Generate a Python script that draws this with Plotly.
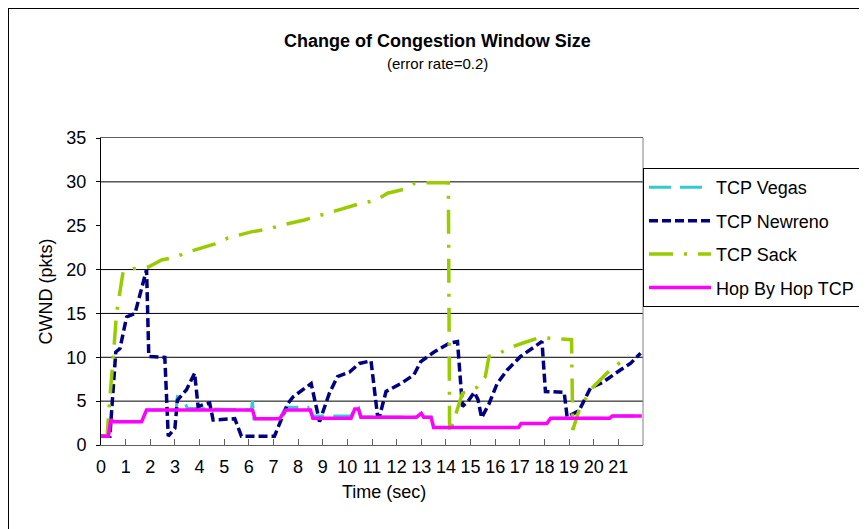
import plotly.graph_objects as go

# ---------------- data ----------------
vegas_t = [0, 0.3, 0.4, 0.5, 1.65, 1.85, 3.05, 3.1, 3.35, 3.5, 6.1, 6.15, 6.2, 7.25, 7.5, 8.4, 8.6,
           9.5, 10.15, 10.3, 10.45, 10.55, 12.8, 13.0, 13.1, 13.4, 13.5, 16.95, 17.05, 18.1, 18.25,
           20.65, 20.75, 21.95]
vegas_v = [1.0, 1.0, 2.9, 2.66, 2.66, 4.0, 4.0, 5.5, 5.3, 4.2, 4.0, 5.0, 3.0, 3.0, 4.3, 4.3, 3.3,
           3.3, 3.3, 4.3, 4.3, 3.2, 3.15, 3.6, 3.15, 3.15, 2.0, 2.0, 2.45, 2.45, 3.04,
           3.04, 3.3, 3.3]

newreno_t = [0, 0.36, 0.6, 0.77, 1.04, 1.38, 1.85, 1.94, 2.59, 2.73, 3.0, 3.1, 3.47, 3.8, 3.94,
             4.41, 4.55, 5.43, 5.7, 7.04, 7.58, 7.8, 8.53, 8.87, 9.27, 9.6, 10.08, 10.49, 10.96,
             11.23, 11.3, 11.57, 12.17, 12.7, 12.98, 13.52, 14.13, 14.47, 14.67, 14.9, 15.15,
             15.3, 15.45, 15.75, 16.08, 16.49, 17.03, 17.9, 18.04, 18.8, 18.92, 19.4, 19.87,
             20.34, 21.08, 21.49, 21.9]
newreno_v = [1.0, 1.0, 10.6, 11.0, 14.6, 15.0, 20.0, 10.1, 10.0, 1.0, 1.9, 5.1, 6.3, 8.2, 4.4,
             4.8, 2.85, 3.0, 1.0, 1.0, 4.7, 5.5, 7.0, 2.66, 5.9, 7.8, 8.3, 9.3, 9.6,
             3.2, 3.2, 6.1, 7.0, 8.0, 9.5, 10.6, 11.6, 11.8, 4.4, 5.0, 6.0,
             5.2, 3.1, 4.7, 7.0, 8.55, 10.1, 11.8, 6.1, 6.0, 3.2, 3.9, 6.5,
             7.1, 8.55, 9.3, 10.45]

sack_t = [0, 0.25, 0.3, 0.43, 0.54, 0.63, 0.81, 0.9, 1.3, 1.92, 2.46, 3.0, 3.53, 4.0, 4.6, 5.15,
          5.76, 6.1, 6.77, 7.38, 8.26, 8.93, 9.5, 10.49, 11.16, 11.63, 12.3, 12.7, 13.3, 14.0,
          14.1, 14.15, 14.47, 14.67, 14.94, 15.27, 15.6, 15.75, 16.1, 16.5, 17.1, 17.7, 18.1,
          18.8, 19.1, 19.15, 19.4, 19.87, 20.54, 21.2, 21.4]
sack_v = [1.0, 1.0, 3.2, 8.5, 11.6, 15.0, 18.0, 19.8, 20.1, 20.3, 21.1, 21.4, 22.0, 22.4, 22.9, 23.6,
          24.1, 24.3, 24.6, 25.1, 25.65, 26.2, 26.6, 27.5, 27.9, 28.7, 29.15, 29.8, 29.9, 29.9,
          29.9, 1.3, 4.0, 5.9, 6.1, 6.6, 7.8, 10.1, 10.3, 11.0, 11.6, 12.16, 12.2,
          12.1, 12.0, 1.7, 3.9, 6.3, 8.2, 9.7, 10.26]

hbh_t = [0, 0.3, 0.4, 0.5, 1.65, 1.85, 6.15, 6.25, 7.25, 7.5, 8.5, 8.6, 10.15, 10.3, 10.45, 10.55,
         12.8, 13.0, 13.1, 13.4, 13.5, 16.95, 17.05, 18.1, 18.25, 20.65, 20.75, 21.95]
hbh_v = [1.0, 1.0, 2.9, 2.66, 2.66, 4.0, 4.0, 3.0, 3.0, 4.0, 4.0, 3.05, 3.05, 4.1, 4.1, 3.15,
         3.15, 3.6, 3.15, 3.15, 2.0, 2.0, 2.45, 2.45, 3.04, 3.04, 3.3, 3.3]

series_names = ["TCP Vegas", "TCP Newreno", "TCP Sack", "Hop By Hop TCP"]
x_tick_vals = list(range(0, 22))
x_tick_text = [str(v) for v in x_tick_vals]
y_tick_vals = [0, 5, 10, 15, 20, 25, 30, 35]
grid_values = [5, 10, 15, 20, 30]   # the reference shows no line at 25

FONT = "Liberation Sans, Arial, sans-serif"

fig = go.Figure()
traces = [
    (vegas_t, vegas_v, "#33CCCC", "22px,9px", 3),
    (newreno_t, newreno_v, "#000080", "9px,4px", 3.5),
    (sack_t, sack_v, "#99CC00", "24px,11px,3px,11px", 3.5),
    (hbh_t, hbh_v, "#FF00FF", "solid", 3.5),
]
for name, (t, v, c, d, w) in zip(series_names, traces):
    fig.add_trace(go.Scatter(x=t, y=v, mode="lines", name=name, legendgroup=name,
                             line=dict(color=c, dash=d, width=w)))

# horizontal grid lines
for g in grid_values:
    fig.add_shape(type="line", xref="paper", yref="y", x0=0, x1=1, y0=g, y1=g,
                  line=dict(color="black", width=1), layer="below")
# right plot-area border
fig.add_shape(type="line", xref="paper", yref="paper", x0=1, x1=1, y0=0, y1=1,
              line=dict(color="#808080", width=1))
# outer chart frame (left and top edges visible)
fig.add_shape(type="rect", xref="paper", yref="paper", x0=-0.1716, x1=2, y0=-1, y1=1.4235,
              line=dict(color="black", width=2))

ann_common = dict(xref="paper", yref="paper", showarrow=False, xanchor="center", yanchor="middle")
fig.add_annotation(text="<b>Change of Congestion Window Size</b>", x=0.62, y=1.316,
                   font=dict(family=FONT, size=18, color="black"), **ann_common)
fig.add_annotation(text="(error rate=0.2)", x=0.62, y=1.244,
                   font=dict(family=FONT, size=15, color="black"), **ann_common)
fig.add_annotation(text="Time (sec)", x=0.522, y=-0.152,
                   font=dict(family=FONT, size=18, color="black"), **ann_common)
fig.add_annotation(text="CWND (pkts)", x=-0.1015, y=0.5, textangle=-90,
                   font=dict(family=FONT, size=18, color="black"), **ann_common)

fig.update_layout(
    width=867, height=529,
    margin=dict(l=93, r=232, t=130, b=92),
    paper_bgcolor="white", plot_bgcolor="white",
    font=dict(family=FONT, size=18, color="black"),
    showlegend=True,
    legend=dict(x=1.0, y=0.902, xanchor="left", yanchor="top",
                bordercolor="black", borderwidth=1, bgcolor="white",
                font=dict(family=FONT, size=18, color="black"),
                itemwidth=62, tracegroupgap=7, traceorder="grouped"),
    xaxis=dict(range=[0, 22], tickvals=x_tick_vals, ticktext=x_tick_text,
               showgrid=False, zeroline=False, showline=True, linecolor="#606060",
               linewidth=1, mirror=True, ticks="inside", ticklen=6, tickcolor="#606060",
               ticklabelstandoff=5, tickfont=dict(family=FONT, size=18)),
    yaxis=dict(range=[0, 35], tickvals=y_tick_vals, showgrid=False, zeroline=False,
               showline=True, linecolor="black", linewidth=1, ticks="outside", ticklen=4,
               tickcolor="black", ticklabelstandoff=6, tickfont=dict(family=FONT, size=18)),
)

fig.write_html("out.html")
